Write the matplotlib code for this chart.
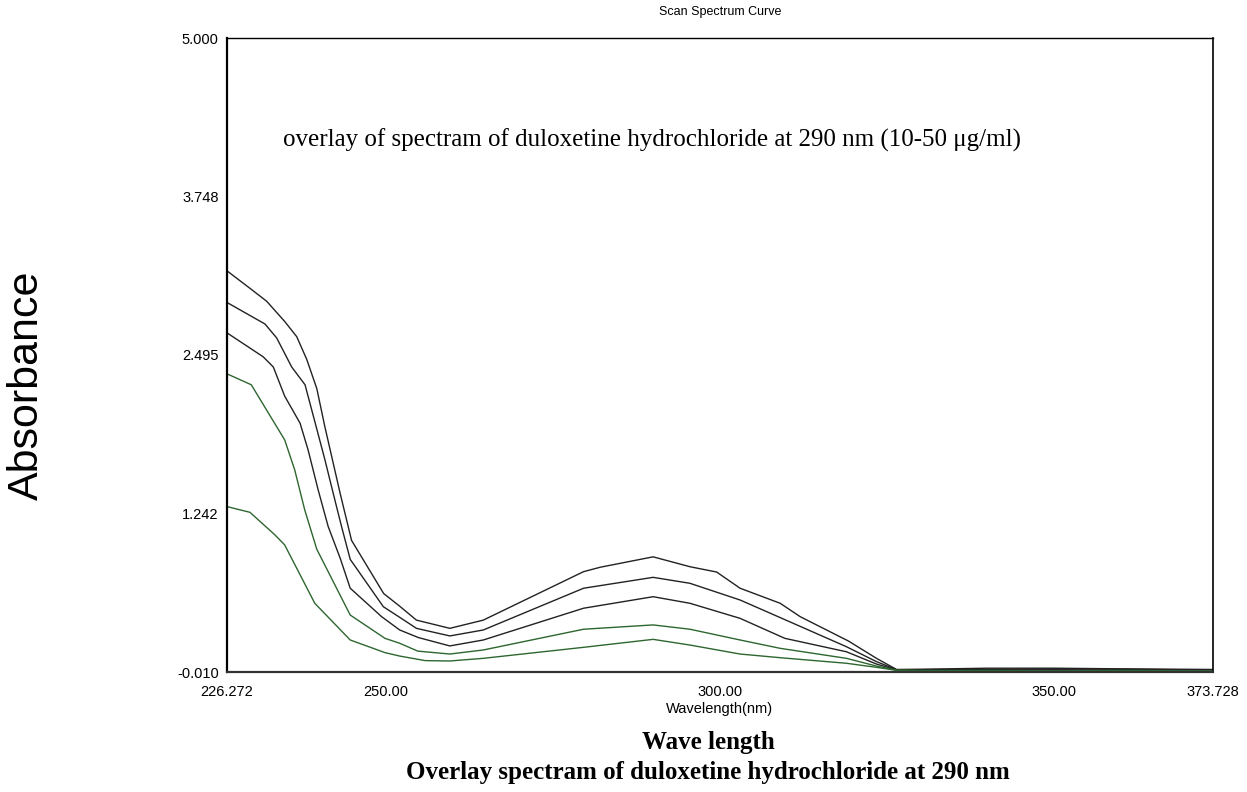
"""Overlay UV scan spectra of duloxetine hydrochloride (10-50 ug/ml), 290 nm.

Values read off a scanned spectrophotometer print-out.
Writes out.png (1247x792).
"""
import matplotlib
matplotlib.use("Agg")
import matplotlib.pyplot as plt

# ---------------------------------------------------------------------------
# Data (wavelength in nm, absorbance) - one array pair per concentration
# ---------------------------------------------------------------------------
WL_1 = [226.272, 230.0, 232.2, 234.9, 236.7, 238.2, 239.7, 240.9, 243.2, 244.9,
        249.7, 252.1, 254.6, 259.6, 264.6, 279.6, 282.1, 290.0, 295.5, 299.5,
        303.0, 309.0, 312.0, 319.2, 323.4, 326.4, 330.0, 340.0, 350.0, 360.0, 373.728]
ABS_1 = [3.16, 3.01, 2.92, 2.76, 2.64, 2.46, 2.23, 1.93, 1.40, 1.03,
         0.61, 0.51, 0.40, 0.335, 0.40, 0.783, 0.818, 0.90, 0.822, 0.78,
         0.652, 0.533, 0.427, 0.235, 0.098, 0.01, 0.012, 0.02, 0.02, 0.015, 0.01]

WL_2 = [226.272, 231.95, 233.7, 235.95, 237.94, 239.2, 240.9, 242.4, 243.4, 244.7,
        249.65, 252.1, 254.6, 259.6, 264.6, 279.6, 290.0, 295.5, 303.0, 309.0,
        318.9, 323.4, 326.4, 330.0, 340.0, 350.0, 360.0, 373.728]
ABS_2 = [2.91, 2.74, 2.63, 2.40, 2.26, 2.01, 1.67, 1.35, 1.14, 0.88,
         0.506, 0.422, 0.335, 0.275, 0.322, 0.652, 0.738, 0.691, 0.559, 0.42,
         0.19, 0.072, 0.008, 0.008, 0.01, 0.015, 0.012, 0.005]

WL_3 = [226.272, 231.7, 233.2, 234.9, 237.2, 238.4, 239.9, 241.4, 243.2, 244.7,
        249.4, 252.1, 254.9, 259.6, 264.6, 279.6, 290.0, 295.5, 303.0, 309.7,
        318.9, 323.4, 326.4, 330.0, 340.0, 350.0, 360.0, 373.728]
ABS_3 = [2.67, 2.48, 2.40, 2.17, 1.956, 1.745, 1.43, 1.14, 0.889, 0.652,
         0.427, 0.322, 0.262, 0.196, 0.243, 0.494, 0.585, 0.533, 0.414, 0.256,
         0.15, 0.053, 0.006, 0.005, 0.005, 0.008, 0.005, 0.0]

WL_4 = [226.272, 229.9, 234.9, 236.4, 237.9, 239.7, 244.7, 249.9, 252.1, 254.8,
        259.6, 264.6, 279.6, 290.0, 295.5, 303.0, 309.0, 318.9, 323.4, 326.4,
        330.0, 340.0, 350.0, 360.0, 373.728]
ABS_4 = [2.346, 2.26, 1.824, 1.587, 1.27, 0.96, 0.44, 0.256, 0.217, 0.155,
         0.132, 0.164, 0.328, 0.362, 0.328, 0.243, 0.177, 0.098, 0.037, 0.005,
         0.002, 0.0, 0.0, 0.002, 0.0]

WL_5 = [226.272, 229.7, 233.45, 234.9, 239.4, 244.7, 249.9, 252.1, 255.9, 259.6,
        264.6, 279.6, 290.0, 295.5, 303.0, 309.0, 318.9, 323.4, 326.4,
        330.0, 340.0, 350.0, 360.0, 373.728]
ABS_5 = [1.297, 1.252, 1.073, 0.994, 0.533, 0.243, 0.143, 0.116, 0.08, 0.077,
         0.098, 0.185, 0.248, 0.203, 0.132, 0.103, 0.059, 0.027, 0.003,
         0.0, 0.002, 0.0, 0.0, -0.002]

SERIES = [(WL_1, ABS_1), (WL_2, ABS_2), (WL_3, ABS_3), (WL_4, ABS_4), (WL_5, ABS_5)]
LINE_COLORS = ["#222222", "#222222", "#222222", "#2e6630", "#2e6630"]

X_TICKS = [226.272, 250.0, 300.0, 350.0, 373.728]
X_LABELS = ["226.272", "250.00", "300.00", "350.00", "373.728"]
Y_TICKS = [-0.010, 1.242, 2.495, 3.748, 5.000]
Y_LABELS = ["-0.010", "1.242", "2.495", "3.748", "5.000"]

INNER_NOTE = "overlay of spectram of duloxetine hydrochloride at 290 nm (10-50 \u03bcg/ml)"
CAPTION_1 = "Wave length"
CAPTION_2 = "Overlay spectram of duloxetine hydrochloride at 290 nm"

SANS = "Liberation Sans"
SERIF = "Liberation Serif"


def make_figure():
    W, H = 1247, 792
    fig = plt.figure(figsize=(W / 100, H / 100), dpi=100)
    # axes box in pixel terms: left 227, right 1213, top 38, bottom 672
    ax = fig.add_axes([227 / W, 1 - 672 / H, (1213 - 227) / W, (672 - 38) / H])

    for (wl, ab), col in zip(SERIES, LINE_COLORS):
        ax.plot(wl, ab, color=col, linewidth=1.0, solid_joinstyle="miter")

    ax.set_xlim(X_TICKS[0], X_TICKS[-1])
    ax.set_ylim(Y_TICKS[0], Y_TICKS[-1])
    ax.set_xticks(X_TICKS)
    ax.set_xticklabels(X_LABELS, fontfamily=SANS, fontsize=10.5)
    ax.set_yticks(Y_TICKS)
    ax.set_yticklabels(Y_LABELS, fontfamily=SANS, fontsize=10.5)
    ax.tick_params(axis="both", length=0)
    ax.tick_params(axis="x", pad=9)
    ax.tick_params(axis="y", pad=6)

    # frame: heavier left/bottom like the instrument print-out
    ax.spines["left"].set_linewidth(1.6)
    ax.spines["bottom"].set_linewidth(1.6)
    ax.spines["bottom"].set_color("#333333")
    ax.spines["top"].set_linewidth(1.0)
    ax.spines["right"].set_linewidth(1.2)

    # texts
    fig.text(720 / W, 1 - 12 / H, "Scan Spectrum Curve", ha="center", va="center",
             fontfamily=SANS, fontsize=9)
    fig.text(720 / W, 1 - 709 / H, "Wavelength(nm)", ha="center", va="center",
             fontfamily=SANS, fontsize=10.5)
    fig.text(283 / W, 1 - 147 / H, INNER_NOTE, ha="left", va="baseline",
             fontfamily=SERIF, fontsize=18)
    fig.text(27 / W, 1 - 385 / H, "Absorbance", rotation=90, ha="center", va="center",
             fontfamily=SANS, fontsize=31)
    fig.text(708 / W, 1 - 742 / H, CAPTION_1, ha="center", va="center",
             fontfamily=SERIF, fontsize=18, fontweight="bold")
    fig.text(708 / W, 1 - 772 / H, CAPTION_2, ha="center", va="center",
             fontfamily=SERIF, fontsize=18, fontweight="bold")

    fig.savefig("out.png", dpi=100)
    plt.close(fig)


if __name__ == "__main__":
    make_figure()
